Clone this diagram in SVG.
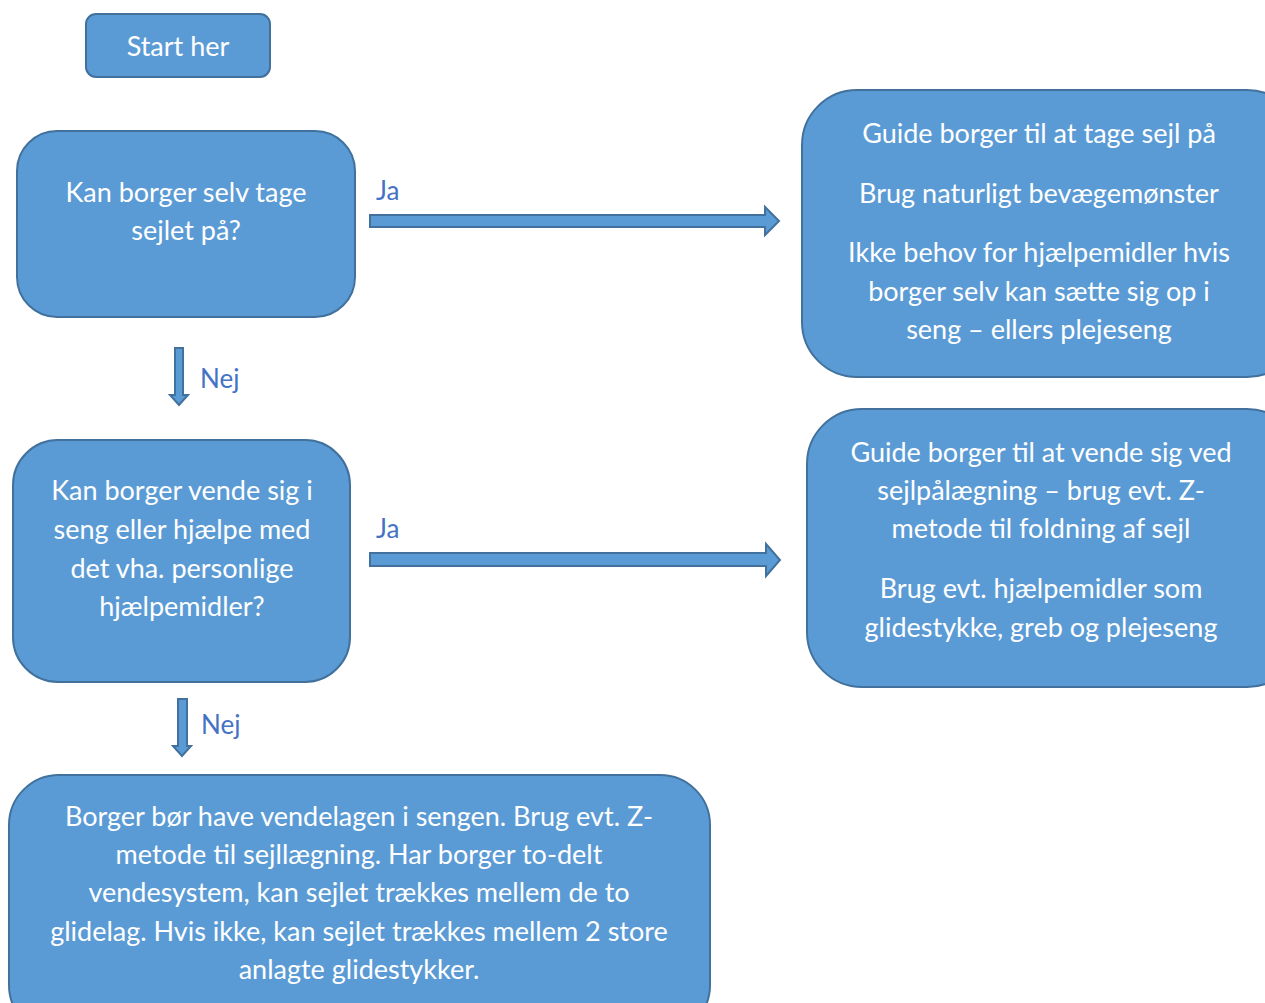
<svg xmlns="http://www.w3.org/2000/svg" width="1265" height="1003" viewBox="0 0 1265 1003">
<style>
.box{fill:#5B9BD5;stroke:#41719C;stroke-width:2}
.t{font-family:Lato,"Liberation Sans",sans-serif;font-size:27px;fill:#FFFFFF;text-anchor:middle}
.lbl{font-family:Lato,"Liberation Sans",sans-serif;font-size:26px;fill:#4472C4}
.arr{fill:#5B9BD5;stroke:#41719C;stroke-width:2}
</style>
<rect width="1265" height="1003" fill="#FFFFFF"/>
<g id="start">
<rect class="box" x="86" y="14" width="184" height="63" rx="10"/>
<text class="t" x="178" y="56">Start her</text>
</g>
<g id="q1">
<rect class="box" x="17" y="131" width="338" height="186" rx="40"/>
<text class="t" x="186" y="202">Kan borger selv tage</text>
<text class="t" x="186" y="240">sejlet på?</text>
</g>
<g id="a1">
<rect class="box" x="802" y="90" width="500" height="287" rx="55"/>
<text class="t" x="1039" y="143">Guide borger til at tage sejl på</text>
<text class="t" x="1039" y="203">Brug naturligt bevægemønster</text>
<text class="t" x="1039" y="262">Ikke behov for hjælpemidler hvis</text>
<text class="t" x="1039" y="301">borger selv kan sætte sig op i</text>
<text class="t" x="1039" y="339">seng – ellers plejeseng</text>
</g>
<g id="q2">
<rect class="box" x="13" y="440" width="337" height="242" rx="45"/>
<text class="t" x="182" y="500">Kan borger vende sig i</text>
<text class="t" x="182" y="539">seng eller hjælpe med</text>
<text class="t" x="182" y="578">det vha. personlige</text>
<text class="t" x="182" y="616">hjælpemidler?</text>
</g>
<g id="a2">
<rect class="box" x="807" y="409" width="495" height="278" rx="55"/>
<text class="t" x="1041" y="462">Guide borger til at vende sig ved</text>
<text class="t" x="1041" y="500">sejlpålægning – brug evt. Z-</text>
<text class="t" x="1041" y="538">metode til foldning af sejl</text>
<text class="t" x="1041" y="598">Brug evt. hjælpemidler som</text>
<text class="t" x="1041" y="637">glidestykke, greb og plejeseng</text>
</g>
<g id="a3">
<rect class="box" x="9" y="775" width="701" height="260" rx="50"/>
<text class="t" x="359" y="826">Borger bør have vendelagen i sengen. Brug evt. Z-</text>
<text class="t" x="359" y="864">metode til sejllægning. Har borger to-delt</text>
<text class="t" x="359" y="902">vendesystem, kan sejlet trækkes mellem de to</text>
<text class="t" x="359" y="941">glidelag. Hvis ikke, kan sejlet trækkes mellem 2 store</text>
<text class="t" x="359" y="979">anlagte glidestykker.</text>
</g>
<g id="connectors">
<polygon class="arr" points="370,215 765,215 765,207 779,221 765,235 765,227 370,227"/>
<polygon class="arr" points="370,553 766,553 766,544 780,560 766,576 766,566 370,566"/>
<polygon class="arr" points="175,348 183,348 183,395 188,395 179,405 170,395 175,395"/>
<polygon class="arr" points="178,699 187,699 187,746 191,746 182,756 173,746 178,746"/>
<text class="lbl" x="376" y="200">Ja</text>
<text class="lbl" x="200" y="388">Nej</text>
<text class="lbl" x="376" y="538">Ja</text>
<text class="lbl" x="201" y="734">Nej</text>
</g>
</svg>
